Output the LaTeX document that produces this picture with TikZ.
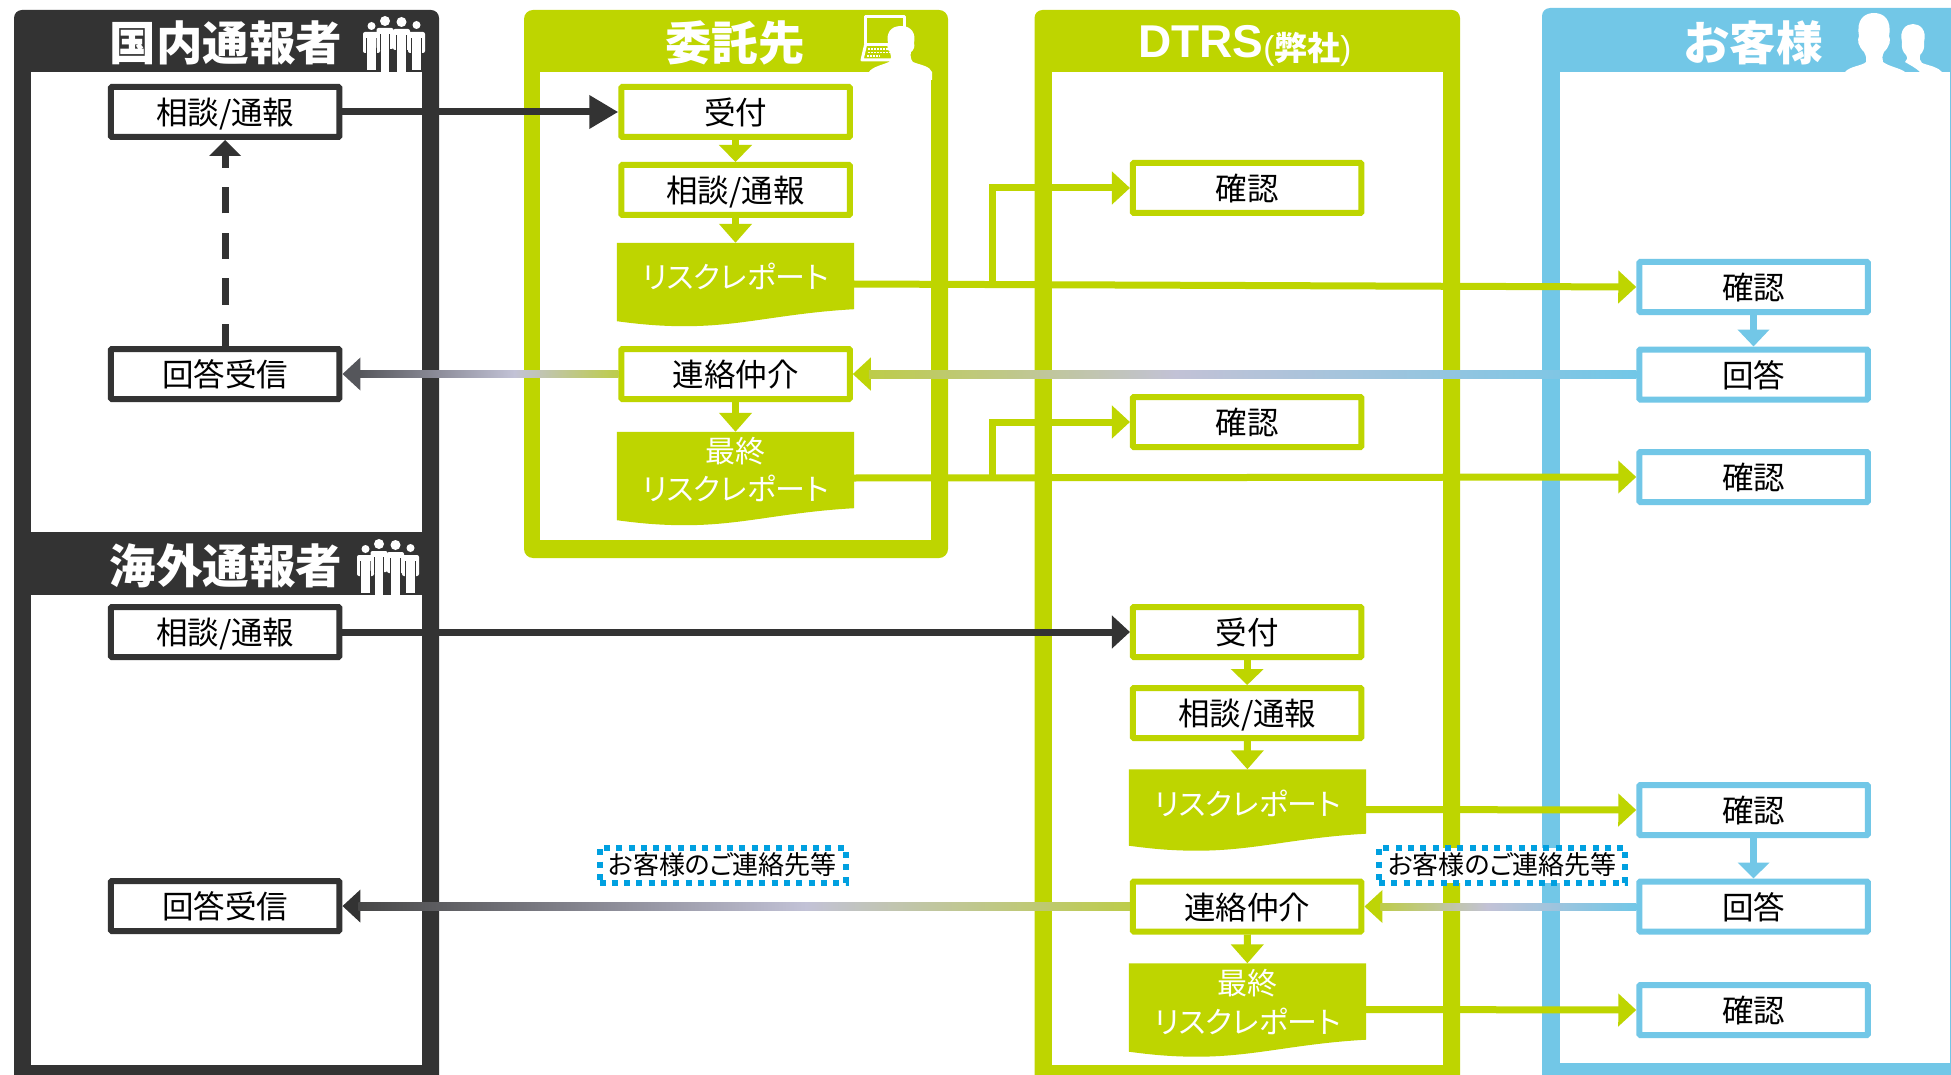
\documentclass[tikz,border=0pt]{standalone}
\usepackage{fontspec}
\setmainfont{Noto Sans CJK JP}
\newfontfamily\palt[RawFeature={+palt}]{Noto Sans CJK JP}
\newfontfamily\latf{Liberation Sans}
\usetikzlibrary{arrows.meta,calc}
\definecolor{dk}{HTML}{333333}
\definecolor{lm}{HTML}{BED500}
\definecolor{bl}{HTML}{72C7E7}
\definecolor{ol}{HTML}{BDCC4A}
\definecolor{lv}{HTML}{C2C2D6}
\definecolor{gd}{HTML}{55565B}
\definecolor{nb}{HTML}{00A0E0}
\pgfdeclarehorizontalshading{gradbl}{100bp}{color(0bp)=(ol);color(25bp)=(ol);color(45bp)=(lv);color(75bp)=(bl);color(100bp)=(bl)}
\pgfdeclarehorizontalshading{gradblb}{100bp}{color(0bp)=(ol);color(25bp)=(ol);color(46bp)=(lv);color(75bp)=(bl);color(100bp)=(bl)}
\pgfdeclarehorizontalshading{graddk}{100bp}{color(0bp)=(gd);color(25bp)=(gd);color(55bp)=(lv);color(75bp)=(ol);color(100bp)=(ol)}
\pgfdeclarehorizontalshading{graddkb}{100bp}{color(0bp)=(gd);color(25bp)=(dk!90!white);color(54bp)=(lv);color(75bp)=(ol);color(100bp)=(ol)}
\tikzset{
  box/.style={draw=#1,fill=white,line width=6pt,minimum width=228.5pt,minimum height=50pt,inner sep=0pt,rounded corners=1pt,text=black,font=\fontsize{31.5}{36}\selectfont,text height=25pt,text depth=0pt},
  dbox/.style={minimum width=237pt,minimum height=#1,inner sep=0pt},
  dtext/.style={text=white,inner sep=0pt,font=\palt\fontsize{30}{36}\selectfont},
  ttl/.style={text=white,inner sep=0pt,font=\bfseries\fontsize{46.5}{50}\selectfont},
  note/.style={draw=nb,fill=white,line width=6pt,dash pattern=on 6pt off 6.3pt,minimum width=246pt,minimum height=35pt,inner sep=0pt,font=\palt\fontsize{26}{30}\selectfont},
  conn/.style={draw=#1,line width=7pt},
  hd/.style={-{Triangle[length=18pt,width=32pt]}},
  hdl/.style={-{Triangle[length=29pt,width=32pt]}},
}
\newcommand\docshape[1]{\fill[lm] (#1.north west) -- (#1.north east) -- ([shift={(0,-16)}]#1.south east) .. controls ([shift={(-72,-12)}]#1.south east) and ([shift={(-112,1)}]#1.south east) .. ([shift={(-169,1)}]#1.south east) .. controls ([shift={(-195,1)}]#1.south east) and ([shift={(-215,-1)}]#1.south east) .. ([shift={(0,-4)}]#1.south west) -- cycle;}
\newcommand\pers[6]{%
  \fill[white] (#1,#2) circle (#3);
  \fill[white,rounded corners=2pt] ({#1-#6},#4) rectangle ({#1+#6},{#4+21});
  \fill[white] ({#1-4.3},#4) rectangle ({#1+4.3},#5);
}
\newcommand\gaps[3]{%
  \fill[dk] ({#1-#3+3.2},{#2+6}) rectangle ({#1-4.3},{#2+22});
  \fill[dk] ({#1+4.3},{#2+6}) rectangle ({#1+#3-3.2},{#2+22});
}
\newcommand\peopleicon{%
  \pers{371.5}{26}{4}{32}{70}{8.5}\gaps{371.5}{32}{8.5}
  \pers{416.5}{25}{4}{32}{70}{8.5}\gaps{416.5}{32}{8.5}
  \pers{385}{21}{5}{28}{72}{8.5}\gaps{385}{28}{8.5}
  \pers{401.5}{22}{5}{29}{72}{8.5}\gaps{401.5}{29}{8.5}
}
\begin{document}
\begin{tikzpicture}[x=1pt,y=-1pt]
\useasboundingbox (0,0) rectangle (1951,1075);
% panels
\fill[dk,rounded corners=8pt] (14,10) -- (439,10) -- (439,1085) -- (14,1085) -- cycle;
\fill[white] (31,72) rectangle (422,532);
\fill[white] (31,595) rectangle (422,1065);
\fill[lm,rounded corners=9pt] (524,10) rectangle (948,558);
\fill[white] (540,72) rectangle (931,540);
\fill[lm,rounded corners=8pt] (1034.5,10) -- (1460,10) -- (1460,1085) -- (1034.5,1085) -- cycle;
\fill[white] (1052,72) rectangle (1442.5,1065);
\fill[bl,rounded corners=8pt] (1542,8) -- (1960,8) -- (1960,1085) -- (1542,1085) -- cycle;
\fill[white] (1560,72) rectangle (1950,1063);
% titles
\node[ttl] (t1) at (226,43) {国内通報者};
\node[ttl] (t2) at (735,43) {委託先};
\node[text=white,inner sep=0pt,anchor=base west] (t3) at (1138,58) {\bfseries\latf\fontsize{46}{50}\selectfont DTRS\fontsize{33}{36}\selectfont\mdseries\raisebox{-2pt}{(}\raisebox{-3pt}{\bfseries\fontspec{Noto Sans CJK JP}弊社}\raisebox{-2pt}{)}};
\node[ttl] (t4) at (1753,43) {お客様};
\node[ttl] (t5) at (226,566) {海外通報者};
% icons
\peopleicon
\begin{scope}[shift={(-6,523)}]\peopleicon\end{scope}
% laptop + person
\draw[white,line width=3pt,line join=round] (865.5,17) rectangle (904,45);
\draw[white,line width=3pt,line join=round] (865.5,45) -- (862,60) -- (895,60);
\draw[white,line width=1.8pt,dash pattern=on 2pt off 1pt] (868,49) -- (893,49);
\draw[white,line width=1.8pt,dash pattern=on 2pt off 1pt] (867.5,52.5) -- (893,52.5);
\draw[white,line width=1.8pt,dash pattern=on 2pt off 1pt] (867,56) -- (880,56);
\fill[white] (869,72) .. controls (872,67) and (882,65) .. (889,62) .. controls (892,58) and (891,55) .. (890,52) .. controls (887,50) and (887,45) .. (888,43) .. controls (886,34) and (890,26) .. (901,26) .. controls (912,26) and (916,34) .. (914,43) .. controls (915,46) and (914,50) .. (911,52) .. controls (910,56) and (911,60) .. (913,62) .. controls (920,65) and (930,66) .. (932,72) -- (932,80) -- (869,80) -- cycle;
% customers
\fill[white] (1845,72) .. controls (1850,66) and (1862,66) .. (1866,62) .. controls (1867,59) and (1866,56) .. (1864,52) .. controls (1858,46) and (1857,40) .. (1859,36) .. controls (1856,20) and (1864,13) .. (1874,13) .. controls (1884,13) and (1892,20) .. (1889,36) .. controls (1891,40) and (1890,46) .. (1884,52) .. controls (1882,56) and (1882,59) .. (1883,62) .. controls (1890,67) and (1900,68) .. (1905,72) -- cycle;
\fill[white] (1905,62) .. controls (1907,60) and (1908,58) .. (1906,55) .. controls (1903,52) and (1901,48) .. (1902,42) .. controls (1899,30) and (1906,24) .. (1913,24) .. controls (1920,24) and (1927,30) .. (1924,42) .. controls (1925,48) and (1923,52) .. (1920,55) .. controls (1919,58) and (1920,61) .. (1922,63) .. controls (1930,66) and (1938,67) .. (1942,72) -- (1920,72) .. controls (1916,68) and (1910,65) .. (1905,62) -- cycle;
% boxes column 1
\node[box=dk] (a1) at (225.2,112) {相談/通報};
\node[box=dk] (a2) at (225.2,374) {回答受信};
\node[box=dk] (a3) at (225.2,632) {相談/通報};
\node[box=dk] (a4) at (225.2,906) {回答受信};
% column 2
\node[box=lm] (b1) at (735.5,112) {受付};
\node[box=lm] (b2) at (735.5,190) {相談/通報};
\node[dbox=82pt] (b3) at (735.5,284) {};
\docshape{b3}
\node[dtext] (b3t) at (735.5,276) {リスクレポート};
\node[box=lm] (b4) at (735.5,374) {連絡仲介};
\node[dbox=92pt] (b5) at (735.5,478) {};
\docshape{b5}
\node[dtext] (b5a) at (735.5,451) {最終};
\node[dtext] (b5b) at (735.5,488) {リスクレポート};
% column 3
\node[box=lm] (c1) at (1247.2,188) {確認};
\node[box=lm] (c2) at (1247.2,422) {確認};
\node[box=lm] (c3) at (1247.2,632) {受付};
\node[box=lm] (c4) at (1247.2,713) {相談/通報};
\node[dbox=80pt] (c5) at (1247.5,809.5) {};
\docshape{c5}
\node[dtext] (c5t) at (1247.5,803) {リスクレポート};
\node[box=lm] (c6) at (1247.2,906.5) {連絡仲介};
\node[dbox=92pt] (c7) at (1247.5,1009.5) {};
\docshape{c7}
\node[dtext] (c7a) at (1247.5,983) {最終};
\node[dtext] (c7b) at (1247.5,1021) {リスクレポート};
% column 4
\node[box=bl] (d1) at (1753.5,287) {確認};
\node[box=bl] (d2) at (1753.5,374.5) {回答};
\node[box=bl] (d3) at (1753.5,477) {確認};
\node[box=bl] (d4) at (1753.5,810) {確認};
\node[box=bl] (d5) at (1753.5,906.5) {回答};
\node[box=bl] (d6) at (1753.5,1010) {確認};
% connectors: vertical
\draw[conn=dk,-{Triangle[length=16pt,width=31pt]},dash pattern=on 26pt off 19.5pt,dash phase=4pt] (a2.north) -- (a1.south);
\draw[conn=lm,-{Triangle[length=17pt,width=32pt]}] (b1) -- (b2);
\draw[conn=lm,-{Triangle[length=19pt,width=32pt]}] (b2) -- (b3);
\draw[conn=lm,-{Triangle[length=19pt,width=32pt]}] (b4) -- (b5);
\draw[conn=lm,-{Triangle[length=16pt,width=32pt]}] (c3) -- (c4);
\draw[conn=lm,-{Triangle[length=19pt,width=32pt]}] (c4) -- (c5);
\draw[conn=lm,-{Triangle[length=19pt,width=32pt]}] (c6) -- (c7);
\draw[conn=bl,-{Triangle[length=17pt,width=31pt]}] (d1) -- (d2);
\draw[conn=bl,-{Triangle[length=16pt,width=31pt]}] (d4) -- (d5);
% horizontal
\draw[conn=dk,hdl] (a1) -- (b1);
\draw[conn=dk,hd] (a3) -- (c3);
\draw[conn=lm,hd] (b3.east) -- (d1.west);
\coordinate (j1) at (992,284.5);
\draw[conn=lm,hd] (j1) |- (c1.west);
\draw[conn=lm,hd] (b5.east) -- (d3.west);
\coordinate (j2) at (992,478);
\draw[conn=lm,hd] (j2) |- (c2.west);
\draw[conn=lm,hd] (c5.east) -- (d4.west);
\draw[conn=lm,hd] (c7.east) -- (d6.west);
% gradient connectors
\draw[conn=ol,hd,draw=lm!90!ol] (d2) -- (b4);
\path[shading=gradbl] ($(b4.east)+(16,-3.5)$) rectangle ($(d2.west)+(0,3.5)$);
\draw[conn=gd,hd] (b4) -- (a2);
\path[shading=graddk] ($(a2.east)+(16,-3.5)$) rectangle ($(b4.west)+(0,3.5)$);
\draw[conn=ol,hd,draw=lm!90!ol] (d5) -- (c6);
\path[shading=gradblb] ($(c6.east)+(16,-3.5)$) rectangle ($(d5.west)+(0,3.5)$);
\draw[conn=dk,hd] (c6) -- (a4);
\path[shading=graddkb] ($(a4.east)+(16,-3.5)$) rectangle ($(c6.west)+(0,3.5)$);
% notes
\node[note] (n1) at (722.5,865) {お客様のご連絡先等};
\node[note] (n2) at (1502,865) {お客様のご連絡先等};
\end{tikzpicture}
\end{document}
